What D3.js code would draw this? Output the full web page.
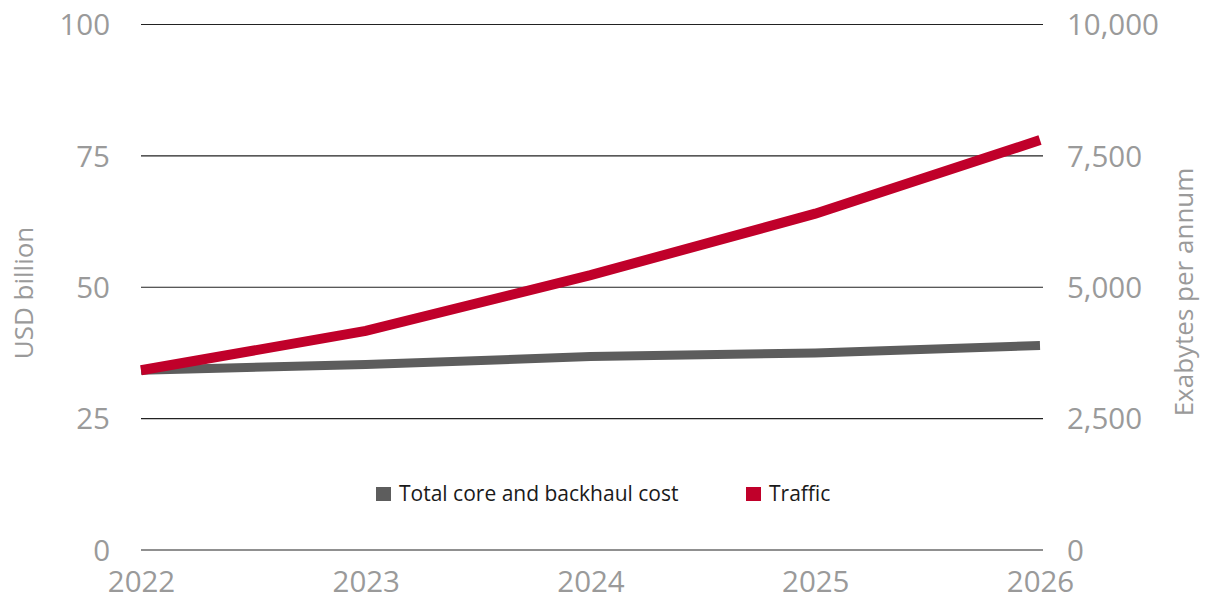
<!DOCTYPE html>
<html><head><meta charset="utf-8">
<script src="https://cdn.jsdelivr.net/npm/d3@7"></script>
<style>body{margin:0;background:#fff}svg{display:block}text{font-family:"Open Sans",sans-serif}</style>
</head><body><svg id="c" width="1207" height="600"></svg>
<script>
const years = ["2022","2023","2024","2025","2026"];
const costValues = [34.2, 35.3, 36.8, 37.5, 38.9];
const trafficValues = [3420, 4170, 5230, 6400, 7800];
const leftTicks = [0, 25, 50, 75, 100];
const rightTicks = [0, 2500, 5000, 7500, 10000];
const seriesNames = ["Total core and backhaul cost", "Traffic"];
const seriesColors = ["#5d5d5d", "#c0002a"];

const svg = d3.select("#c");
const x = d3.scalePoint().domain(years).range([141, 1040]);
const yL = d3.scaleLinear().domain([0, 100]).range([550, 24.5]);
const yR = d3.scaleLinear().domain([0, 10000]).range([550, 24.5]);

// gridlines
svg.append("g").selectAll("line").data(leftTicks).join("line")
  .attr("x1", 141).attr("x2", 1043)
  .attr("y1", d => yL(d)).attr("y2", d => yL(d))
  .attr("stroke", "#222").attr("stroke-width", 1.2);

const tickFont = 29.5;
const gl = svg.append("g").attr("transform", "translate(110,0)")
  .call(d3.axisLeft(yL).tickValues(leftTicks).tickSize(0).tickPadding(0));
gl.select(".domain").remove();
gl.selectAll("text").attr("font-size", tickFont).attr("fill", "#9a9a9a").attr("dy", "0.35em").style("font-family", "Open Sans");

const gr = svg.append("g").attr("transform", "translate(1067,0)")
  .call(d3.axisRight(yR).tickValues(rightTicks).tickSize(0).tickPadding(0).tickFormat(d3.format(",")));
gr.select(".domain").remove();
gr.selectAll("text").attr("font-size", tickFont).attr("fill", "#9a9a9a").attr("dy", "0.35em").style("font-family", "Open Sans");

const gx = svg.append("g").attr("transform", "translate(0,571)")
  .call(d3.axisBottom(x).tickSize(0).tickPadding(0));
gx.select(".domain").remove();
gx.selectAll("text").attr("font-size", tickFont).attr("fill", "#9a9a9a").attr("dy", "0.71em").style("font-family", "Open Sans");

// axis titles
svg.append("text").attr("transform", "translate(33,293) rotate(-90)")
  .attr("text-anchor", "middle").attr("font-size", 26).attr("fill", "#9a9a9a").text("USD billion");
svg.append("text").attr("transform", "translate(1193,292) rotate(-90)")
  .attr("text-anchor", "middle").attr("font-size", 26).attr("fill", "#9a9a9a").text("Exabytes per annum");

// lines
const lineL = d3.line().x((d, i) => x(years[i])).y(d => yL(d));
const lineR = d3.line().x((d, i) => x(years[i])).y(d => yR(d));
svg.append("path").attr("d", lineL(costValues)).attr("fill", "none")
  .attr("stroke", seriesColors[0]).attr("stroke-width", 9);
svg.append("path").attr("d", lineR(trafficValues)).attr("fill", "none")
  .attr("stroke", seriesColors[1]).attr("stroke-width", 10);

// legend
const legX = [376, 746];
const lg = svg.append("g").selectAll("g").data(seriesNames).join("g")
  .attr("transform", (d, i) => `translate(${legX[i]},487)`);
lg.append("rect").attr("width", 15).attr("height", 14).attr("fill", (d, i) => seriesColors[i]);
lg.append("text").attr("x", 23).attr("y", 14).attr("font-size", 21).attr("fill", "#1a1a1a").text(d => d);
</script></body></html>
